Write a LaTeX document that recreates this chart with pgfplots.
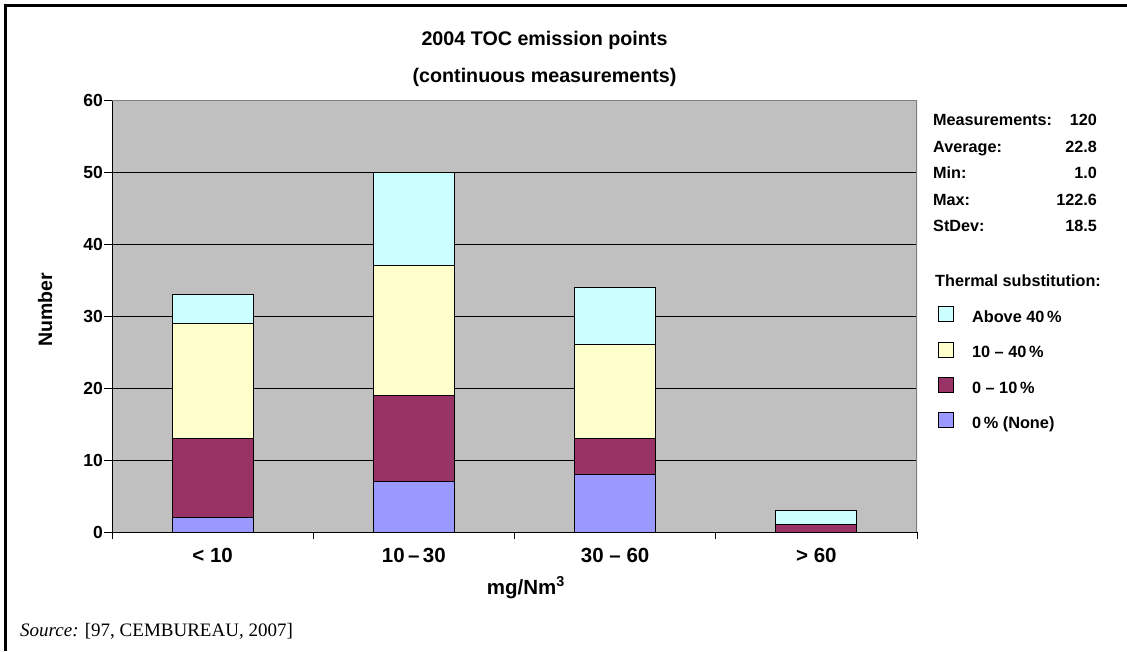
\documentclass[border=0pt]{standalone}
\usepackage{pgfplots}
\pgfplotsset{compat=1.18}
\usepackage{fontspec}
\setmainfont{Liberation Sans}
\newfontfamily\timesfont{Liberation Serif}
\definecolor{cyanbar}{HTML}{CCFFFF}
\definecolor{yellowbar}{HTML}{FFFFCC}
\definecolor{maroonbar}{HTML}{993366}
\definecolor{bluebar}{HTML}{9999FF}
\definecolor{plotgray}{HTML}{C0C0C0}
\definecolor{bordergray}{HTML}{808080}

\pgfplotstableread{
x none low mid high
0 2 11 16 4
1 7 12 18 13
2 8 5 13 8
3 0 1 0 2
}\datatable

\begin{document}
\begin{tikzpicture}[x=1pt,y=1pt]
\path[use as bounding box] (0,0) rectangle (1127,651);
\draw[line width=3pt] (5,0) -- (5,645) -- (1127,645);
\begin{axis}[
  at={(112pt,119pt)}, anchor=south west, scale only axis,
  width=805pt, height=432pt,
  ybar stacked, bar width=81pt,
  xmin=-0.5, xmax=3.5, ymin=0, ymax=60,
  axis x line*=bottom, axis y line*=left,
  axis line style={black, line width=0.8pt},
  ytick={0,10,...,60},
  xtick={0,1,2,3},
  xticklabels={{< 10},{10\,--\,30},{30 -- 60},{> 60}},
  major x tick style={draw=none},
  minor xtick={-0.5,0.5,1.5,2.5,3.5},
  minor x tick style={black, line width=0.8pt},
  minor tick length=7pt,
  major tick length=8pt,
  ytick style={black, line width=0.8pt},
  tick align=outside,
  ymajorgrids, grid style={black, line width=0.6pt},
  axis background/.style={fill=plotgray},
  /pgf/number format/assume math mode=true,
  yticklabel style={font=\bfseries\fontsize{17.5}{20}\selectfont, inner sep=1pt},
  xticklabel style={font=\bfseries\fontsize{20.5}{24}\selectfont, anchor=base, yshift=-22pt},
  xlabel={mg/Nm\textsuperscript{3}},
  xlabel style={font=\bfseries\fontsize{20.5}{24}\selectfont, at={(axis description cs:0.514,0)}, anchor=base, yshift=-62pt},
  ylabel={Number},
  ylabel style={font=\bfseries\fontsize{19.5}{22}\selectfont, at={(axis description cs:-0.083,0.514)}, anchor=center},
  title={2004 TOC emission points\\(continuous measurements)},
  title style={font=\bfseries\fontsize{19.7}{36.7}\selectfont, align=center, at={(axis description cs:0.5373,1)}, anchor=south, inner sep=0pt, yshift=7.5pt},
  legend style={draw=none, fill=none, at={(rel axis cs:1.0224,0.5278)}, anchor=north west,
    font=\bfseries\fontsize{16.3}{19}\selectfont,
    nodes={inner sep=0pt, text height=12pt, text depth=3pt, anchor=base west},
    row sep=16pt,
    /tikz/every odd column/.append style={column sep=18pt}},
  legend image code/.code={\draw[#1,/tikz/.cd,draw=black,line width=0.8pt] (0pt,1pt) rectangle (15pt,16pt);},
  reverse legend,
  legend cell align=left,
]
\addplot[fill=bluebar, draw=black, line width=0.8pt] table[x=x, y=none] {\datatable};
\addplot[fill=maroonbar, draw=black, line width=0.8pt] table[x=x, y=low] {\datatable};
\addplot[fill=yellowbar, draw=black, line width=0.8pt] table[x=x, y=mid] {\datatable};
\addplot[fill=cyanbar, draw=black, line width=0.8pt] table[x=x, y=high] {\datatable};
\legend{{0\,\% (None)},{0 -- 10\,\%},{10 -- 40\,\%},{Above 40\,\%}}
\draw[bordergray, line width=1.5pt] (rel axis cs:0,1) -- (rel axis cs:1,1) -- (rel axis cs:1,0);
\end{axis}
\begin{scope}[every node/.style={font=\bfseries\fontsize{16.2}{19}\selectfont, inner sep=0pt}]
\node[anchor=base west] at (933,525) {Measurements:};
\node[anchor=base east] at (1097,525) {120};
\node[anchor=base west] at (933,498.5) {Average:};
\node[anchor=base east] at (1097,498.5) {22.8};
\node[anchor=base west] at (933,472) {Min:};
\node[anchor=base east] at (1097,472) {1.0};
\node[anchor=base west] at (933,445.5) {Max:};
\node[anchor=base east] at (1097,445.5) {122.6};
\node[anchor=base west] at (933,419) {StDev:};
\node[anchor=base east] at (1097,419) {18.5};
\node[anchor=base west] at (935,364.3) {Thermal substitution:};
\end{scope}
\node[anchor=base west, inner sep=0pt, font=\timesfont\fontsize{19}{22}\selectfont] at (20,15) {\textit{Source:} [97, CEMBUREAU, 2007]};
\end{tikzpicture}
\end{document}
